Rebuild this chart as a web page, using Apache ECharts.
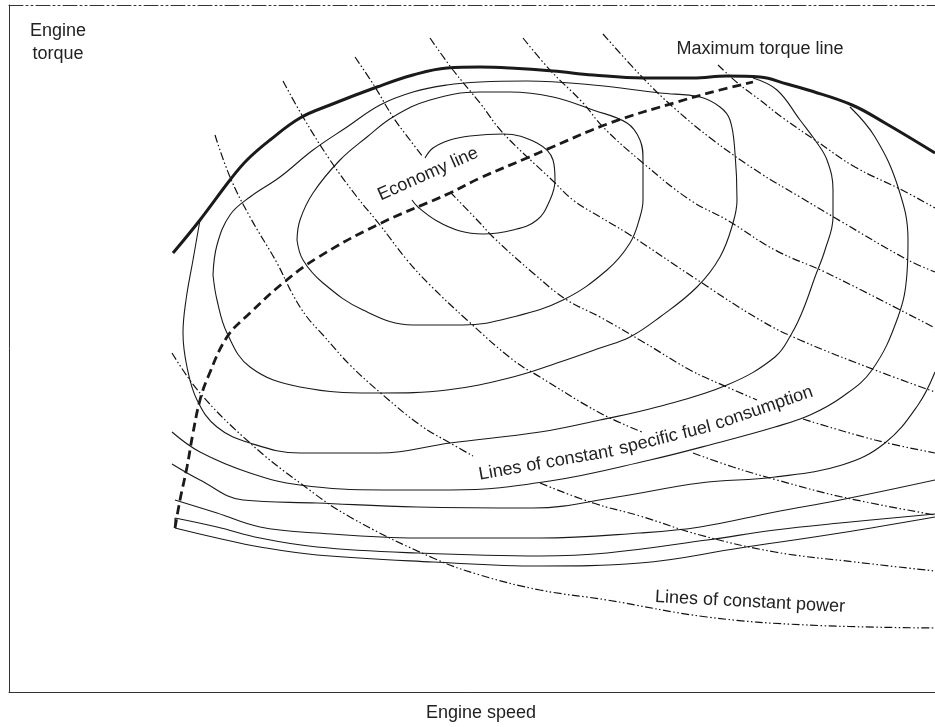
<!DOCTYPE html>
<html>
<head>
<meta charset="utf-8">
<script src="https://cdn.jsdelivr.net/npm/echarts@6/dist/echarts.min.js"></script>
<style>
  html, body { margin: 0; padding: 0; background: #fff; }
  #main { width: 935px; height: 727px; }
</style>
</head>
<body>
<div id="main"></div>
<script>
// engine map, x = engine speed units, y = engine torque units
var maxTorque = [[164,439],[191,472],[221,512],[238,532],[261,552],[291,574],[321,587],[368,605],[404,617],[438,624],[471,625],[501,624],[544,621],[584,617],[634,614],[684,614],[718,616],[751,615],[778,608],[799,602],[843,587],[876,569],[926,539]];
var economyLine = [[166,164],[171,192],[178,225],[184,259],[191,292],[199,315],[218,355],[241,379],[274,409],[308,434],[368,467],[441,499],[471,514],[518,534],[541,544],[601,569],[668,590],[711,602],[744,610]];

// lines of constant specific fuel consumption
var sfc1 = [[416,534],[424,544],[441,552],[461,556],[494,558],[528,549],[544,532],[546,512],[541,492],[528,472],[504,462],[474,458],[451,461],[428,471],[409,485],[403,492]];
var sfc2 = [[288,452],[291,472],[304,499],[331,532],[358,555],[384,575],[421,592],[471,600],[501,600],[544,595],[584,582],[618,569],[631,552],[634,532],[634,492],[631,475],[621,449],[598,422],[554,392],[504,375],[454,367],[404,367],[354,382],[314,409],[294,432],[288,452]];
var sfc3 = [[204,417],[208,447],[221,477],[241,495],[271,515],[304,542],[338,565],[371,587],[404,600],[438,607],[471,610],[518,611],[584,607],[651,599],[691,595],[711,585],[721,572],[726,539],[728,492],[724,469],[711,435],[688,405],[651,375],[621,355],[591,344],[554,331],[504,315],[438,302],[371,299],[291,305],[241,325],[218,359],[208,392],[204,417]];
var sfc4 = [[191,472],[184,432],[177,392],[174,359],[178,325],[188,292],[208,265],[241,249],[291,239],[371,239],[441,249],[531,260],[591,272],[648,285],[718,307],[766,335],[783,359],[794,382],[806,415],[816,442],[824,475],[824,502],[818,532],[806,552],[791,572],[768,602],[744,614]];
var sfc5 = [[163,260],[191,240],[241,219],[291,207],[374,202],[441,202],[541,211],[641,232],[708,249],[766,265],[801,277],[833,295],[863,322],[889,375],[898,419],[899,452],[889,505],[866,555],[841,585]];
var sfc6 = [[163,228],[191,212],[234,192],[308,189],[408,185],[524,184],[608,195],[691,209],[766,215],[833,227],[876,249],[909,287],[926,320]];
var sfc7 = [[166,192],[208,179],[251,165],[308,159],[408,154],[531,154],[631,159],[691,165],[766,180],[831,192],[926,212]];
var sfc8a = [[166,174],[208,165],[251,154],[308,145],[408,139],[531,136],[598,139],[698,152],[766,162],[831,169],[926,178]];
var sfc8b = [[166,164],[208,154],[251,145],[308,137],[424,130],[531,126],[631,129],[731,144],[831,159],[926,175]];

// lines of constant power (broken where labels sit)
var power1 = [[163,339],[191,299],[241,249],[291,209],[341,175],[424,134],[471,117],[531,102],[598,92],[698,75],[798,67],[926,64]];
var power2a = [[206,557],[221,515],[241,475],[268,429],[284,397],[298,375],[314,357],[341,327],[374,297],[411,267],[441,249],[464,236]];
var power2b = [[531,209],[584,189],[631,176],[691,157],[766,140],[846,130],[926,121]];
var power3a = [[274,611],[294,575],[321,532],[348,495],[371,467],[398,432],[421,407],[458,372],[504,332],[531,315],[591,279],[633,260]];
var power3b = [[684,239],[724,225],[768,212],[833,195],[926,177]];
var power4a = [[346,635],[366,605],[384,575],[401,552],[414,535]];
var power4b = [[441,500],[471,469],[484,455],[524,419],[558,392],[591,375],[636,349],[681,322],[718,305],[748,292]];
var power4c = [[794,273],[866,252],[926,239]];
var power5 = [[421,654],[444,622],[471,589],[494,559],[544,511],[564,492],[591,475],[618,459],[684,415],[751,372],[791,352],[866,322],[926,300]];
var power6 = [[514,654],[541,622],[574,589],[594,565],[634,529],[681,492],[718,472],[766,442],[818,419],[926,364]];
var power7 = [[594,658],[634,614],[664,585],[704,552],[751,519],[791,495],[833,470],[899,432],[926,420]];
var power8 = [[709,627],[731,607],[751,592],[774,574],[806,552],[846,525],[893,502],[926,484]];

var FONT = '"Liberation Sans", Arial, Helvetica, sans-serif';
var INK = '#1a1a1a';

var thin = { color: INK, width: 1.1 };
var heavy = { color: INK, width: 3 };
var dashedHeavy = { color: INK, width: 2.8, type: [9, 5] };
var dashDot = { color: '#111', width: 1.2, type: [8, 2.5, 1.5, 2.5, 1.5, 2.5] };

function line(data, style, smooth) {
    return {
        type: 'line',
        data: data,
        smooth: smooth === undefined ? 0.4 : smooth,
        symbol: 'none',
        silent: true,
        lineStyle: style
    };
}

function label(text, x, y, deg) {
    return {
        type: 'text',
        x: x,
        y: y,
        rotation: (deg || 0) * Math.PI / 180,
        style: {
            text: text,
            fontFamily: FONT,
            fontSize: 18,
            fill: '#222',
            align: 'center',
            verticalAlign: 'middle'
        }
    };
}

var series = [
    line(sfc1, thin), line(sfc2, thin), line(sfc3, thin), line(sfc4, thin),
    line(sfc5, thin), line(sfc6, thin), line(sfc7, thin),
    line(sfc8a, thin), line(sfc8b, thin),
    line([sfc8a[0], sfc8b[0]], thin, false),
    line(power1, dashDot), line(power2a, dashDot), line(power2b, dashDot),
    line(power3a, dashDot), line(power3b, dashDot),
    line(power4a, dashDot), line(power4b, dashDot), line(power4c, dashDot),
    line(power5, dashDot), line(power6, dashDot), line(power7, dashDot), line(power8, dashDot),
    line(maxTorque, heavy),
    line(economyLine, dashedHeavy)
];

var chart = echarts.init(document.getElementById('main'));
chart.setOption({
    animation: false,
    backgroundColor: '#fff',
    grid: { left: 9, right: 0, top: 5, bottom: 35 },
    xAxis: [{
        type: 'value', min: 0, max: 926, position: 'bottom',
        axisLine: { onZero: false, lineStyle: { color: '#333', width: 1 } },
        axisTick: { show: false }, axisLabel: { show: false }, splitLine: { show: false }
    }, {
        type: 'value', min: 0, max: 926, position: 'top',
        axisLine: { onZero: false, lineStyle: { color: '#333', width: 1, type: [14, 3, 2, 3, 2, 3] } },
        axisTick: { show: false }, axisLabel: { show: false }, splitLine: { show: false }
    }],
    yAxis: {
        type: 'value', min: 0, max: 687,
        axisLine: { show: true, onZero: false, lineStyle: { color: '#333', width: 1 } },
        axisTick: { show: false }, axisLabel: { show: false }, splitLine: { show: false }
    },
    series: series,
    graphic: [
        label('Engine', 58, 31),
        label('torque', 58, 54),
        label('Maximum torque line', 760, 49),
        label('Engine speed', 481, 713),
        label('Economy line', 428, 174, 24),
        label('Lines of constant', 546, 463, 10),
        label('specific fuel', 665, 438, 14),
        label('consumption', 764, 408, 19),
        label('Lines of constant power', 750, 602, -3)
    ]
});
</script>
</body>
</html>
